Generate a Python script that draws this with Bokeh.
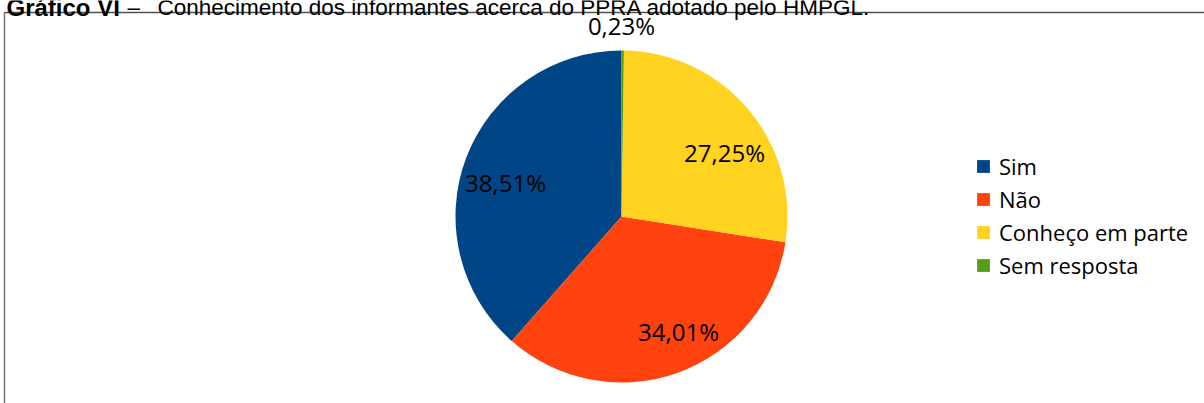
from bokeh.plotting import figure
from bokeh.models import Range1d, Legend, LegendItem, ColumnDataSource
from bokeh.core.properties import value
from bokeh.embed import file_html
from bokeh.resources import INLINE
import math

categories = ["Sim", "Não", "Conheço em parte", "Sem resposta"]
percentages = [38.51, 34.01, 27.25, 0.23]
labels = ["38,51%", "34,01%", "27,25%", "0,23%"]
colors = ["#004586", "#ff420e", "#ffd320", "#579d1c"]
title_bold = "Gráfico VI"
title_dash = "–"
title_rest = "Conhecimento dos informantes acerca do PPRA adotado pelo HMPGL."

W, H = 1204, 403
p = figure(width=W, height=H, output_backend="svg", toolbar_location=None,
           x_range=Range1d(0, W), y_range=Range1d(0, H), min_border=0)
p.axis.visible = False
p.grid.visible = False
p.outline_line_color = None
p.background_fill_color = "white"

cx, cy, r = 621, H - 216, 166
total = sum(percentages)
starts, ends = [], []
a = math.pi / 2
for v in percentages:
    starts.append(a)
    a += v / total * 2 * math.pi
    ends.append(a)

src = ColumnDataSource(dict(cat=categories, start=starts, end=ends, color=colors))
wr = p.wedge(x=cx, y=cy, radius=r, start_angle="start", end_angle="end",
             fill_color="color", line_color=None, source=src)

# data labels
lab_pos_px = {"38,51%": (505, 182), "34,01%": (678, 331), "27,25%": (724, 152), "0,23%": (621, 25)}
lx, ly = [], []
for lab in labels:
    x_, y_ = lab_pos_px[lab]
    lx.append(x_)
    ly.append(H - y_)
p.text(x=lx, y=ly, text=labels, text_align="center", text_baseline="middle",
       text_font=value("Open Sans"), text_font_size="24px", text_color="black")

# frame lines
p.line(x=[4, 4], y=[0, H - 12], line_color="#707070", line_width=1.5)
p.line(x=[4, W], y=[H - 12, H - 12], line_color="#505050", line_width=1.5)

# title (cut off at the top, as in the reference)
ty = H - 7
p.text(x=[6], y=[ty], text=[title_bold], text_baseline="alphabetic",
       text_font=value("Liberation Sans"), text_font_style="bold",
       text_font_size="24px", text_color="black")
p.text(x=[127], y=[ty], text=[title_dash], text_baseline="alphabetic",
       text_font=value("Liberation Sans"), text_font_size="22.5px", text_color="black")
p.text(x=[157], y=[ty], text=[title_rest], text_baseline="alphabetic",
       text_font=value("Liberation Sans"), text_font_size="22.5px", text_color="black")

items = [LegendItem(label=c, renderers=[wr], index=i) for i, c in enumerate(categories)]
legend = Legend(items=items, location=(975, 123), padding=0, margin=0,
                border_line_alpha=0, background_fill_alpha=0,
                glyph_width=16, glyph_height=16, label_height=26, spacing=3,
                label_standoff=8, label_text_font="Open Sans",
                label_text_font_size="22px", label_text_color="black")
p.add_layout(legend)

open("out.html", "w").write(file_html(p, INLINE))
